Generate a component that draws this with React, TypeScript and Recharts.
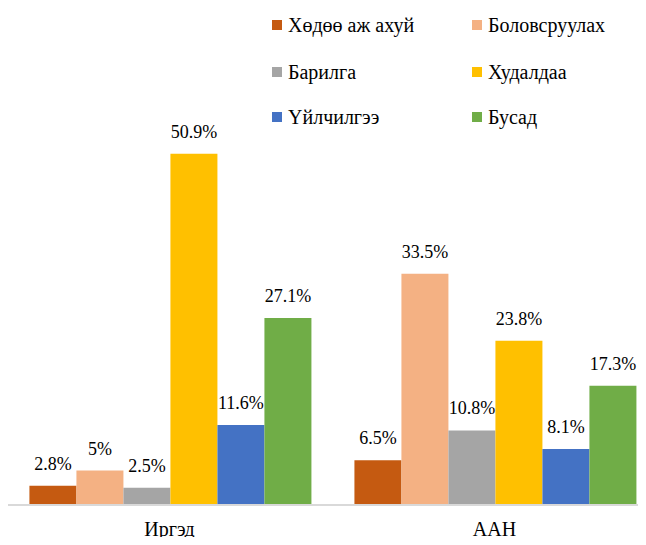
import { BarChart, Bar, XAxis, YAxis, LabelList } from "recharts";

const categories = ["Иргэд", "ААН"];

const seriesNames = ["Хөдөө аж ахуй", "Боловсруулах", "Барилга", "Худалдаа", "Үйлчилгээ", "Бусад"];
const seriesColors = ["#C55A11", "#F4B183", "#A5A5A5", "#FFC000", "#4472C4", "#70AD47"];

const farming = [2.8, 6.5];
const processing = [5, 33.5];
const construction = [2.5, 10.8];
const trade = [50.9, 23.8];
const services = [11.6, 8.1];
const other = [27.1, 17.3];

const seriesValues = [farming, processing, construction, trade, services, other];

const data = categories.map((name, i) => {
  const row: Record<string, string | number> = { name };
  seriesNames.forEach((s, j) => {
    row[s] = seriesValues[j][i];
  });
  return row;
});

const font = "Liberation Serif, Tinos, Times New Roman, DejaVu Serif, serif";

// legend order: left column then right column, row by row
const legendPos = [
  { left: 272, top: 25 },
  { left: 472, top: 25 },
  { left: 272, top: 72 },
  { left: 472, top: 72 },
  { left: 272, top: 117 },
  { left: 472, top: 117 },
];

export default function App() {
  return (
    <div
      style={{
        position: "relative",
        width: 646,
        height: 545,
        overflow: "hidden",
        margin: -8,
        background: "#fff",
        fontFamily: font,
      }}
    >
      <BarChart
        width={662}
        height={545}
        data={data}
        margin={{ top: 91, right: 5, left: 7, bottom: 0 }}
        barCategoryGap="6.9%"
        barGap={0}
        style={{ fontFamily: font }}
      >
        <XAxis
          dataKey="name"
          height={40}
          axisLine={{ stroke: "#d9d9d9", strokeWidth: 2 }}
          tickLine={false}
          tickMargin={11}
          tick={{ fill: "#000", fontSize: 20, fontFamily: font }}
        />
        <YAxis hide domain={[0, 60]} />
        {seriesNames.map((s, j) => (
          <Bar key={s} dataKey={s} fill={seriesColors[j]} isAnimationActive={false}>
            <LabelList
              dataKey={s}
              position="top"
              offset={16}
              formatter={(v: any) => `${v}%`}
              fontFamily={font}
              fontSize={18}
              fill="#000"
            />
          </Bar>
        ))}
      </BarChart>
      {seriesNames.map((s, j) => (
        <div
          key={s}
          style={{
            position: "absolute",
            left: legendPos[j].left,
            top: legendPos[j].top - 12,
            height: 24,
            display: "flex",
            alignItems: "center",
            fontSize: 20,
            color: "#000",
            whiteSpace: "nowrap",
          }}
        >
          <span style={{ width: 10, height: 10, background: seriesColors[j], marginRight: 6 }} />
          {s}
        </div>
      ))}
    </div>
  );
}
